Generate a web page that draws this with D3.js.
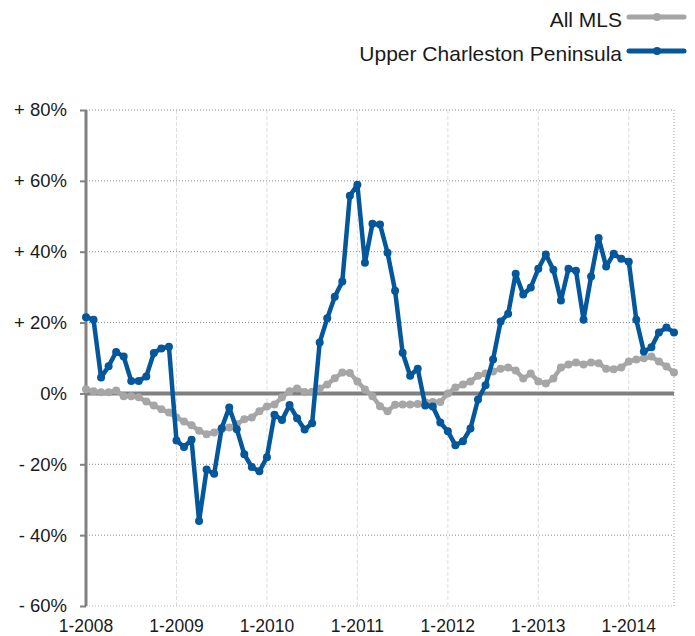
<!DOCTYPE html>
<html>
<head>
<meta charset="utf-8">
<script src="https://cdn.jsdelivr.net/npm/d3@7"></script>
<style>
  body { margin: 0; background: #fff; }
  text { font-family: "Liberation Sans", Helvetica, Arial, sans-serif; fill: #1a1a1a; }
</style>
</head>
<body>
<script>

// monthly change in %, Jan 2008 - Jul 2014
const allMls = [
  1.2, 0.6, 0.3, 0.3, 0.8, -0.8, -0.8, -1.1, -2.3, -3.4, -4.5, -5.4,
  -6.8, -7.9, -9.0, -10.5, -11.5, -11.0, -10.1, -9.6, -8.7, -7.3, -6.8, -5.0,
  -3.7, -3.1, -1.1, 0.6, 1.4, 0.4, 0.5, 1.4, 2.5, 4.3, 5.9, 5.8,
  3.4, 1.1, -0.8, -3.6, -5.0, -3.2, -3.1, -3.1, -3.0, -2.5, -2.4, -2.4,
  0.0, 1.7, 2.5, 3.4, 5.0, 5.6, 6.2, 7.0, 7.3, 6.5, 4.2, 5.6,
  3.4, 2.8, 4.2, 7.3, 8.2, 8.7, 8.2, 8.7, 8.5, 7.0, 6.8, 7.3,
  9.0, 9.6, 9.9, 10.4, 9.0, 7.6, 5.9
];
const upperPeninsula = [
  21.5, 20.8, 4.5, 7.7, 11.7, 10.4, 3.5, 3.5, 4.8, 11.4, 12.7, 13.2,
  -13.3, -15.1, -13.1, -36.0, -21.5, -22.7, -9.8, -4.0, -10.1, -17.2, -20.8, -22.0,
  -18.0, -6.0, -7.5, -3.3, -7.0, -10.2, -8.4, 14.4, 21.2, 27.3, 31.6, 55.8,
  58.9, 36.9, 47.9, 47.7, 39.7, 29.0, 11.5, 5.0, 7.0, -3.4, -3.7, -8.2,
  -10.7, -14.6, -13.5, -9.9, -1.7, 2.3, 9.6, 20.3, 22.5, 33.8, 27.9, 29.9,
  35.2, 39.2, 34.9, 26.2, 35.2, 34.6, 20.8, 33.0, 43.9, 35.8, 39.4, 38.0,
  37.2, 20.8, 11.8, 13.0, 17.2, 18.6, 17.2
];
const yearLabels = ['1-2008', '1-2009', '1-2010', '1-2011', '1-2012', '1-2013', '1-2014'];
const yTicks = [80, 60, 40, 20, 0, -20, -40, -60];
const seriesNames = ['All MLS', 'Upper Charleston Peninsula'];

const WIDTH = 695;
const HEIGHT = 636;
const MARGIN = {top: 110, bottom: 30, left: 86, right: 21};

const GRAY = '#a6a6a6';
const BLUE = '#03579a';

let SVG = d3.select('body')
            .append('svg')
            .attr('width', WIDTH)
            .attr('height', HEIGHT);

// month index on x, percent on y
const xScale = d3.scaleLinear()
                 .domain([0, allMls.length - 1])
                 .range([MARGIN.left, WIDTH - MARGIN.right]);

const yScale = d3.scaleLinear()
                 .domain([-60, 80])
                 .range([HEIGHT - MARGIN.bottom, MARGIN.top]);

// vertical year gridlines
SVG.selectAll('.vgrid')
   .data(yearLabels)
   .enter()
   .append('line')
   .attr('x1', (d, i) => xScale(i * 12))
   .attr('x2', (d, i) => xScale(i * 12))
   .attr('y1', yScale(80))
   .attr('y2', yScale(-60))
   .attr('stroke', '#dcdcdc')
   .attr('stroke-dasharray', '4,2');

// right border
SVG.append('line')
   .attr('x1', xScale.range()[1])
   .attr('x2', xScale.range()[1])
   .attr('y1', yScale(80))
   .attr('y2', yScale(-60))
   .attr('stroke', '#999')
   .attr('stroke-dasharray', '1,2');

// horizontal dotted gridlines
SVG.selectAll('.hgrid')
   .data(yTicks.filter(d => d !== 0))
   .enter()
   .append('line')
   .attr('x1', MARGIN.left)
   .attr('x2', xScale.range()[1])
   .attr('y1', d => yScale(d))
   .attr('y2', d => yScale(d))
   .attr('stroke', d => d === -60 ? '#bbb' : '#888')
   .attr('stroke-dasharray', '1,2');

// zero line
SVG.append('line')
   .attr('x1', MARGIN.left)
   .attr('x2', xScale.range()[1])
   .attr('y1', yScale(0))
   .attr('y2', yScale(0))
   .attr('stroke', '#808080')
   .attr('stroke-width', 4);

// y axis
let yAxis = d3.axisLeft(yScale)
              .tickValues(yTicks)
              .tickSize(6)
              .tickPadding(13)
              .tickFormat(d => d === 0 ? '0%' : (d > 0 ? '+ ' : '- ') + Math.abs(d) + '%');

let yG = SVG.append('g')
            .attr('transform', 'translate(' + MARGIN.left + ',0)')
            .call(yAxis);
yG.select('.domain')
  .attr('stroke', '#808080')
  .attr('stroke-width', 3)
  .attr('d', 'M0,' + yScale(80) + 'V' + yScale(-60));
yG.selectAll('.tick line').attr('stroke', '#808080').attr('stroke-width', 2);
yG.selectAll('.tick text')
  .style('font-size', '18.5px')
  .style('font-family', '"Liberation Sans", Helvetica, Arial, sans-serif')
  .attr('fill', '#1a1a1a');

// x labels
SVG.selectAll('.xlabel')
   .data(yearLabels)
   .enter()
   .append('text')
   .attr('x', (d, i) => xScale(i * 12))
   .attr('y', 626)
   .attr('text-anchor', 'middle')
   .attr('dominant-baseline', 'central')
   .style('font-size', '17.5px')
   .text(d => d);

// series lines + markers
const line = d3.line()
               .x((d, i) => xScale(i))
               .y(d => yScale(d));

function drawSeries(values, color) {
    SVG.append('path')
       .datum(values)
       .attr('d', line)
       .attr('fill', 'none')
       .attr('stroke', color)
       .attr('stroke-width', 4.5)
       .attr('stroke-linejoin', 'round');

    SVG.append('g')
       .selectAll('circle')
       .data(values)
       .enter()
       .append('circle')
       .attr('cx', (d, i) => xScale(i))
       .attr('cy', d => yScale(d))
       .attr('r', 4)
       .attr('fill', color);
}

drawSeries(allMls, GRAY);
drawSeries(upperPeninsula, BLUE);

// legend, top right
const legendRows = [{name: seriesNames[0], color: GRAY, y: 17},
                    {name: seriesNames[1], color: BLUE, y: 51}];

let legend = SVG.selectAll('.legend')
                .data(legendRows)
                .enter()
                .append('g')
                .attr('transform', d => 'translate(0,' + d.y + ')');

legend.append('text')
      .attr('x', 622)
      .attr('y', 2)
      .attr('text-anchor', 'end')
      .attr('dominant-baseline', 'central')
      .style('font-size', '21px')
      .text(d => d.name);

legend.append('line')
      .attr('x1', 629)
      .attr('x2', 684)
      .attr('stroke', d => d.color)
      .attr('stroke-width', 5)
      .attr('stroke-linecap', 'round');

legend.append('circle')
      .attr('cx', 657)
      .attr('r', 4)
      .attr('fill', d => d.color);

</script>
</body>
</html>
